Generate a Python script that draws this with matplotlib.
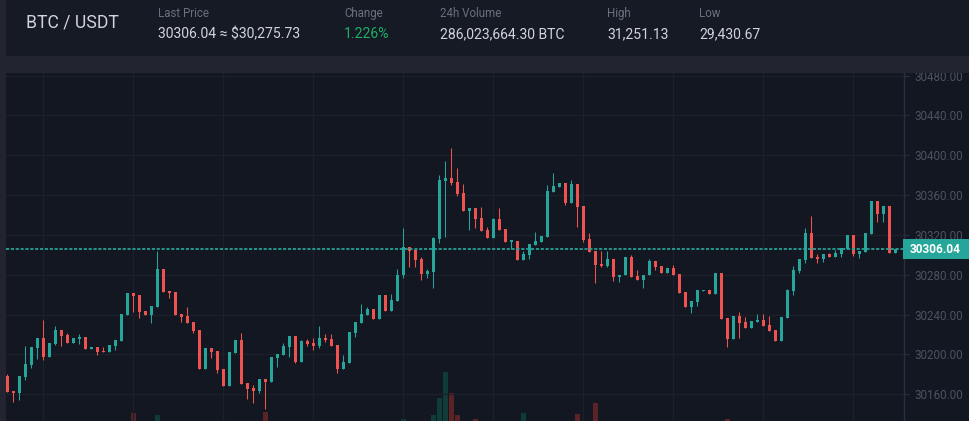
import matplotlib
matplotlib.use("Agg")
import matplotlib.pyplot as plt
from matplotlib.patches import Rectangle
import numpy as np

# ---------------- data ----------------
opens = [30178.3, 30163.3, 30161.3, 30177.6, 30189.3, 30206.3, 30216.3, 30197.3, 30210.3, 30224.3,
         30219.3, 30211.3, 30215.3, 30217.3, 30205.3, 30207.3, 30203.3, 30202.3, 30208.3, 30213.3,
         30239.3, 30261.3, 30259.3, 30243.3, 30239.3, 30247.3, 30286.3, 30263.3, 30262.3, 30240.3,
         30238.3, 30232.3, 30224.3, 30185.3, 30206.3, 30203.3, 30185.3, 30168.3, 30201.3, 30214.3,
         30171.3, 30166.3, 30163.3, 30175.3, 30172.3, 30196.3, 30199.3, 30207.3, 30218.3, 30192.3,
         30213.3, 30211.3, 30208.3, 30216.3, 30215.3, 30209.3, 30185.3, 30191.3, 30221.3, 30231.3,
         30239.3, 30245.3, 30235.3, 30259.3, 30243.3, 30253.3, 30279.3, 30308.3, 30305.3, 30296.3,
         30281.3, 30283.3, 30316.3, 30374.3, 30377.3, 30373.3, 30362.3, 30344.3, 30347.3, 30337.3,
         30325.3, 30317.3, 30336.3, 30326.3, 30313.3, 30314.3, 30295.3, 30300.3, 30310.3, 30313.3,
         30318.3, 30363.3, 30368.3, 30372.3, 30352.3, 30371.3, 30349.3, 30316.3, 30304.3, 30291.3,
         30289.3, 30296.3, 30277.3, 30279.3, 30298.3, 30278.3, 30274.3, 30279.3, 30294.3, 30289.3,
         30282.3, 30287.3, 30281.3, 30262.3, 30247.3, 30252.3, 30263.3, 30264.3, 30260.3, 30282.3,
         30236.3, 30215.3, 30238.3, 30232.3, 30226.3, 30232.3, 30234.3, 30229.3, 30224.3, 30213.3,
         30236.3, 30263.3, 30284.3, 30295.3, 30322.3, 30298.3, 30296.3, 30301.3, 30298.3, 30301.3,
         30306.3, 30320.3, 30301.3, 30303.3, 30321.3, 30354.3, 30341.3, 30349.3, 30302.3]
highs = [30180.3, 30163.3, 30178.3, 30208.3, 30207.3, 30216.3, 30234.3, 30211.3, 30228.3, 30224.3,
         30221.3, 30216.3, 30220.3, 30217.3, 30207.3, 30207.3, 30207.3, 30209.3, 30214.3, 30240.3,
         30261.3, 30261.3, 30259.3, 30243.3, 30248.3, 30304.3, 30286.3, 30263.3, 30262.3, 30240.3,
         30247.3, 30232.3, 30224.3, 30206.3, 30206.3, 30203.3, 30185.3, 30202.3, 30214.3, 30221.3,
         30171.3, 30169.3, 30175.3, 30175.3, 30197.3, 30200.3, 30211.3, 30218.3, 30218.3, 30214.3,
         30215.3, 30216.3, 30228.3, 30220.3, 30220.3, 30209.3, 30199.3, 30222.3, 30232.3, 30250.3,
         30247.3, 30245.3, 30259.3, 30259.3, 30260.3, 30286.3, 30327.3, 30308.3, 30305.3, 30298.3,
         30286.3, 30318.3, 30380.3, 30394.3, 30407.3, 30387.3, 30371.3, 30347.3, 30347.3, 30348.3,
         30328.3, 30337.3, 30347.3, 30326.3, 30314.3, 30314.3, 30304.3, 30311.3, 30323.3, 30319.3,
         30370.3, 30382.3, 30372.3, 30372.3, 30375.3, 30371.3, 30349.3, 30322.3, 30304.3, 30304.3,
         30304.3, 30296.3, 30280.3, 30298.3, 30300.3, 30285.3, 30280.3, 30296.3, 30294.3, 30289.3,
         30287.3, 30290.3, 30281.3, 30262.3, 30253.3, 30264.3, 30264.3, 30264.3, 30282.3, 30282.3,
         30236.3, 30238.3, 30242.3, 30237.3, 30233.3, 30240.3, 30240.3, 30238.3, 30224.3, 30237.3,
         30265.3, 30289.3, 30296.3, 30327.3, 30339.3, 30301.3, 30301.3, 30302.3, 30305.3, 30307.3,
         30320.3, 30320.3, 30304.3, 30322.3, 30354.3, 30354.3, 30349.3, 30349.3, 30306.04]
lows = [30162.6, 30152.6, 30154.6, 30174.6, 30186.6, 30195.3, 30194.6, 30197.3, 30209.3, 30208.6,
        30211.3, 30211.3, 30210.3, 30205.3, 30205.3, 30199.3, 30202.3, 30202.3, 30204.3, 30213.3,
        30239.3, 30242.3, 30236.3, 30239.3, 30231.3, 30247.3, 30262.3, 30256.3, 30239.3, 30232.3,
        30231.3, 30221.3, 30185.3, 30185.3, 30196.3, 30181.3, 30168.3, 30168.3, 30201.3, 30170.3,
        30155.3, 30151.3, 30161.3, 30145.3, 30172.3, 30187.3, 30199.3, 30197.3, 30191.3, 30192.3,
        30208.3, 30204.3, 30206.3, 30212.3, 30208.3, 30181.3, 30185.3, 30191.3, 30217.3, 30231.3,
        30239.3, 30235.3, 30235.3, 30243.3, 30243.3, 30253.3, 30276.3, 30288.3, 30288.3, 30274.3,
        30276.3, 30266.3, 30312.3, 30318.3, 30370.3, 30359.3, 30344.3, 30325.3, 30327.3, 30324.3,
        30317.3, 30317.3, 30325.3, 30313.3, 30306.3, 30295.3, 30295.3, 30296.3, 30310.3, 30313.3,
        30318.3, 30363.3, 30368.3, 30350.3, 30352.3, 30328.3, 30313.3, 30303.3, 30271.3, 30288.3,
        30288.3, 30273.3, 30272.3, 30279.3, 30277.3, 30274.3, 30266.3, 30279.3, 30285.3, 30282.3,
        30282.3, 30280.3, 30261.3, 30247.3, 30241.3, 30248.3, 30263.3, 30260.3, 30260.3, 30235.3,
        30207.3, 30215.3, 30216.3, 30226.3, 30226.3, 30232.3, 30228.3, 30223.3, 30213.3, 30213.3,
        30236.3, 30259.3, 30282.3, 30292.3, 30297.3, 30292.3, 30293.3, 30298.3, 30298.3, 30298.3,
        30306.3, 30299.3, 30297.3, 30303.3, 30321.3, 30333.3, 30333.3, 30302.3, 30302.3]
closes = [30162.6, 30161.6, 30178.3, 30190.3, 30207.3, 30216.3, 30197.3, 30211.3, 30224.3, 30218.6,
          30211.3, 30216.3, 30217.3, 30205.3, 30207.3, 30202.3, 30202.3, 30209.3, 30214.3, 30240.3,
          30261.3, 30258.3, 30242.3, 30239.3, 30248.3, 30286.3, 30262.3, 30261.3, 30239.3, 30237.3,
          30231.3, 30223.3, 30185.3, 30206.3, 30202.3, 30184.3, 30168.3, 30202.3, 30214.3, 30170.3,
          30165.3, 30163.3, 30175.3, 30172.3, 30197.3, 30200.3, 30208.3, 30218.3, 30192.3, 30213.3,
          30210.3, 30208.3, 30216.3, 30214.3, 30208.3, 30185.3, 30192.3, 30222.3, 30232.3, 30240.3,
          30245.3, 30235.3, 30259.3, 30243.3, 30254.3, 30280.3, 30308.3, 30304.3, 30295.3, 30281.3,
          30284.3, 30317.3, 30375.3, 30377.3, 30372.3, 30361.3, 30344.3, 30347.3, 30336.3, 30324.3,
          30317.3, 30336.3, 30325.3, 30313.3, 30314.3, 30295.3, 30301.3, 30311.3, 30314.3, 30319.3,
          30364.3, 30369.3, 30372.3, 30352.3, 30371.3, 30348.3, 30315.3, 30303.3, 30290.3, 30289.3,
          30296.3, 30277.3, 30280.3, 30298.3, 30277.3, 30274.3, 30280.3, 30294.3, 30288.3, 30282.3,
          30287.3, 30280.3, 30261.3, 30247.3, 30253.3, 30264.3, 30264.3, 30260.3, 30282.3, 30235.3,
          30215.3, 30238.3, 30231.3, 30226.3, 30233.3, 30234.3, 30228.3, 30223.3, 30213.3, 30237.3,
          30264.3, 30285.3, 30296.3, 30322.3, 30297.3, 30296.3, 30301.3, 30298.3, 30302.3, 30307.3,
          30320.3, 30301.3, 30304.3, 30322.3, 30354.3, 30341.3, 30349.3, 30302.3, 30306.04]

# volume bars visible at the bottom edge (candle index, relative height)
vol_idx = [21, 25, 43, 66, 71, 72, 73, 74, 75, 78, 86, 95, 98, 120]
vol_val = [8, 6, 9, 2, 6, 23, 49, 28, 6, 2, 8, 7, 18, 2]

price_ticks = [30160, 30200, 30240, 30280, 30320, 30360, 30400, 30440, 30480]
last_price = 30306.04

header_labels = ["Last Price", "Change", "24h Volume", "High", "Low"]
header_values = ["30306.04 \u2248 $30,275.73", "1.226%", "286,023,664.30 BTC", "31,251.13", "29,430.67"]
pair_name = "BTC / USDT"

# ---------------- styling ----------------
W, H = 969, 421
FAM = ["Roboto", "DejaVu Sans"]
C_GAP = "#222530"
C_HEAD = "#161a25"
C_CHART = "#131722"
C_GRID = "#1c202b"
C_AXIS = "#2b2e42"
C_TICK = "#4d5161"
C_UP = "#26a69a"
C_DN = "#ef5350"
C_UPV = "#0f3c38"
C_DNV = "#5a2427"

fig = plt.figure(figsize=(W / 100, H / 100), dpi=100)
fig.patch.set_facecolor(C_GAP)

def fx(px):
    return px / W

def fy(py):
    return 1 - py / H

# header and chart panels
fig.patches.append(Rectangle((fx(5), fy(55.7)), fx(W - 5), 55.7 / H, transform=fig.transFigure,
                             facecolor=C_HEAD, edgecolor="none", zorder=0))
fig.patches.append(Rectangle((fx(6), 0), fx(W - 6), fy(72.5), transform=fig.transFigure,
                             facecolor=C_CHART, edgecolor="none", zorder=0))

ax_left, ax_right, ax_top = 6, 904.3, 73
rect = [fx(ax_left), 0, fx(ax_right - ax_left), (H - ax_top) / H]

n = len(opens)
x = np.arange(n)
xlim = ((ax_left - 7.33) / 6.0, (ax_right - 7.33) / 6.0)

# volume axes (behind)
axv = fig.add_axes(rect, zorder=1)
axv.set_facecolor("none")
axv.set_xlim(*xlim)
axv.set_ylim(0, H - ax_top)
axv.axis("off")
vcols = [C_UPV if closes[i] >= opens[i] else C_DNV for i in vol_idx]
axv.bar(vol_idx, vol_val, width=0.83, color=vcols, linewidth=0)

# price axes
ax = fig.add_axes(rect, zorder=2)
ax.set_facecolor("none")
ax.set_xlim(*xlim)
top_v = 30400 + (155.3 - ax_top) / 0.9958
bot_v = 30160 - (H - 394.3) / 0.9958
ax.set_ylim(bot_v, top_v)

o = np.array(opens); c = np.array(closes); hi = np.array(highs); lo = np.array(lows)
up = c >= o
cols = np.where(up, C_UP, C_DN)
ax.vlines(x, lo, hi, colors=cols, linewidth=0.75, zorder=3)
body_bot = np.minimum(o, c)
body_h = np.maximum(np.abs(c - o), 1.2)
ax.bar(x, body_h, bottom=body_bot, width=0.52, color=cols, linewidth=0, zorder=4)

# price line
ax.axhline(last_price, color=C_UP, linewidth=1.25, linestyle=(0, (1.8, 1.0)), zorder=5)

# grid
ax.set_yticks(price_ticks)
ax.set_yticklabels([f"{v:.2f}" for v in price_ticks])
ax.set_xticks(list(range(6, n, 15)))
ax.set_xticklabels([])
ax.grid(True, color=C_GRID, linewidth=1.0, zorder=0)
ax.set_axisbelow(True)
ax.tick_params(axis="x", length=0)
ax.yaxis.tick_right()
ax.tick_params(axis="y", colors=C_AXIS, length=3.5, width=0.8, pad=4, labelsize=8.4,
               labelcolor=C_TICK)
for lab in ax.get_yticklabels():
    lab.set_family(FAM)
for s in ["top", "left", "bottom"]:
    ax.spines[s].set_visible(False)
ax.spines["right"].set_color(C_AXIS)
ax.spines["right"].set_linewidth(1.0)

# last price label box
fig.patches.append(Rectangle((fx(903.3), fy(258.7)), fx(W - 903.3), 19.4 / H,
                             transform=fig.transFigure, facecolor=C_UP, edgecolor="none",
                             zorder=6))
fig.text(fx(935.5), fy(249.2), f"{last_price:.2f}", color="white", fontsize=8.6,
         fontweight="bold", family=FAM, ha="center", va="center", zorder=7)

# band between header and chart (drawn above axes to clip top label)
fig.patches.append(Rectangle((0, fy(72.5)), 1, (72.5 - 55.7) / H, transform=fig.transFigure,
                             facecolor=C_GAP, edgecolor="none", zorder=8))
fig.patches.append(Rectangle((0, 0), fx(5.5), 1, transform=fig.transFigure,
                             facecolor=C_GAP, edgecolor="none", zorder=8))

# header texts
fig.text(fx(26), fy(22.5), pair_name, color="#d1d4dc", fontsize=12.7, family=FAM,
         ha="left", va="center", zorder=9)
xs = [158, 344, 440, 607, 699]
for i, (lbl, val) in enumerate(zip(header_labels, header_values)):
    fig.text(fx(xs[i]), fy(13.5), lbl, color="#6b6f80", fontsize=8.3, family=FAM,
             ha="left", va="center", zorder=9)
    colr = "#1fae62" if lbl == "Change" else "#d1d4dc"
    fig.text(fx(xs[i]), fy(34), val, color=colr, fontsize=10.1, family=FAM,
             ha="left", va="center", zorder=9)

fig.savefig("out.png", dpi=100, facecolor=fig.get_facecolor())
